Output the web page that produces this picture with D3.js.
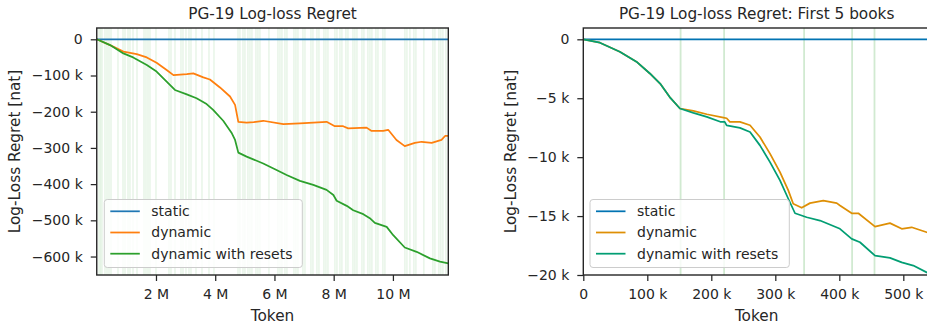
<!DOCTYPE html>
<html>
<head>
<meta charset="utf-8">
<script src="https://cdn.jsdelivr.net/npm/d3@7/dist/d3.min.js"></script>
<style>
  html, body { margin: 0; padding: 0; background: #fff; }
  svg { display: block; font-family: "DejaVu Sans", sans-serif; }
</style>
</head>
<body>
<svg id="chart" width="927" height="327"></svg>
<script>
// ---- Data ----------------------------------------------------------------
const seriesNames = ["static", "dynamic", "dynamic with resets"];

// Full PG-19 run: token in millions, regret in thousands of nats
const fullTokensM = [0, 11.87];
const fullStatic = [[0, 0], [11.87, 0]];
const fullDynamic = [
  [0, 0], [0.45, -16], [0.9, -34], [1.35, -41], [1.69, -50], [2.02, -65], [2.36, -85],
  [2.59, -99], [3.04, -96], [3.26, -94], [3.6, -105], [3.82, -111], [4.16, -133],
  [4.5, -158], [4.67, -181], [4.78, -228], [5.06, -230], [5.3, -229], [5.62, -225],
  [6.3, -234], [6.86, -232], [7.31, -230], [7.76, -228], [8.04, -240], [8.32, -240],
  [8.49, -246], [9.11, -244], [9.28, -253], [9.67, -253], [9.84, -250], [10.12, -278],
  [10.40, -295], [10.74, -286], [10.97, -283], [11.31, -286], [11.64, -278],
  [11.76, -267], [11.87, -267]
];
const fullResets = [
  [0, 0], [0.45, -16], [0.9, -39], [1.23, -50], [1.69, -71], [2.02, -89], [2.36, -117],
  [2.64, -140], [3.04, -152], [3.37, -163], [3.71, -179], [3.93, -195], [4.27, -225],
  [4.55, -258], [4.67, -278], [4.78, -313], [5.06, -324], [5.62, -343], [6.07, -361],
  [6.41, -375], [6.86, -391], [7.31, -402], [7.76, -416], [7.99, -430], [8.10, -446],
  [8.44, -460], [8.66, -472], [9.0, -483], [9.22, -494], [9.39, -507], [9.79, -518],
  [10.01, -541], [10.40, -575], [10.80, -587], [11.25, -605], [11.59, -614], [11.87, -619]
];
// Book boundaries (reset points), token in millions
const fullBookEnds = [
  0.076, 0.127, 0.177, 0.278, 0.346, 0.414, 0.481, 0.717, 0.886, 0.954, 1.055, 1.122,
  1.224, 1.359, 1.595, 1.662, 1.730, 1.797, 2.000, 2.439, 2.506, 2.641, 2.844, 2.911,
  3.013, 3.114, 3.181, 3.350, 3.553, 3.789, 3.958, 4.768, 4.835, 4.937, 5.004, 5.105,
  5.173, 5.240, 5.375, 5.443, 5.510, 5.814, 6.118, 6.186, 6.253, 6.354, 6.422, 6.658,
  6.726, 6.793, 6.962, 7.030, 7.232, 7.300, 7.435, 7.502, 7.671, 7.738, 7.806, 8.042,
  8.110, 8.211, 8.278, 8.413, 8.481, 8.650, 8.717, 8.785, 8.954, 9.021, 9.156, 9.224,
  9.291, 9.426, 9.494, 9.662, 9.730, 10.405, 10.473, 10.574, 10.709, 10.776, 11.046,
  11.350, 11.418, 11.553, 11.620, 11.688, 11.789
];
const fullXTicksM = [2, 4, 6, 8, 10];
const fullYTicksK = [0, -100, -200, -300, -400, -500, -600];

// First 5 books: token in thousands, regret in thousands of nats
const firstStatic = [[0, 0], [541.7, 0]];
const firstDynamic = [
  [0, 0], [26, -0.29], [57, -1.05], [83, -1.9], [104, -2.9], [120, -3.75], [135, -4.9],
  [151, -5.87], [172, -6.07], [193, -6.36], [219, -6.64], [224, -6.7], [229, -7.0],
  [244.8, -7.01], [260.5, -7.29], [276, -8.29], [291.7, -9.7], [307.3, -11.27],
  [320.3, -12.82], [328, -13.96], [341.2, -14.3], [354.2, -13.9], [375, -13.68],
  [396, -13.9], [401, -14.1], [419.4, -14.76], [429.7, -14.76], [455.8, -15.89],
  [479.2, -15.6], [497.5, -16.08], [513, -15.95], [536.6, -16.37], [541.7, -16.45]
];
const firstResets = [
  [0, 0], [26, -0.29], [57, -1.05], [83, -1.9], [104, -2.9], [120, -3.75], [135, -4.9],
  [151, -5.87], [172, -6.24], [193, -6.58], [214, -7.0], [221, -7.0], [224, -7.3],
  [244.8, -7.52], [260.5, -7.86], [276, -9.0], [291.7, -10.42], [307.3, -11.97],
  [320.3, -13.53], [330.8, -14.76], [349, -15.1], [369.8, -15.38], [401, -16.08],
  [419.4, -16.93], [432.3, -17.22], [455.8, -18.36], [479.2, -18.55], [497.5, -18.93],
  [515.6, -19.2], [536.6, -19.78], [541.7, -19.9]
];
const firstBookEnds = [152, 220, 345, 420, 455];
const firstXTicksK = [0, 100, 200, 300, 400, 500];
const firstYTicksK = [0, -5, -10, -15, -20];

// ---- Drawing ---------------------------------------------------------------
const svg = d3.select("#chart");
const ink = "#262626";
const MINUS = "\u2212";

function fmt(v, unit) {
  if (v === 0) return "0";
  const s = `${Math.abs(v)} ${unit}`;
  return v < 0 ? MINUS + s : s;
}

function panel(cfg) {
  const g = svg.append("g");
  const x = d3.scaleLinear().domain(cfg.xDomain).range([cfg.left, cfg.right]);
  const y = d3.scaleLinear().domain(cfg.yDomain).range([cfg.bottom, cfg.top]);

  const clipId = "clip-" + cfg.id;
  svg.append("clipPath").attr("id", clipId).append("rect")
    .attr("x", cfg.left).attr("y", cfg.top)
    .attr("width", cfg.right - cfg.left).attr("height", cfg.bottom - cfg.top);

  const plot = g.append("g").attr("clip-path", `url(#${clipId})`);

  // reset markers
  plot.append("g").selectAll("line").data(cfg.bookEnds).join("line")
    .attr("x1", d => x(d)).attr("x2", d => x(d))
    .attr("y1", cfg.top).attr("y2", cfg.bottom)
    .attr("stroke", "#2ca02c")
    .attr("stroke-opacity", cfg.markerOpacity)
    .attr("stroke-width", cfg.markerWidth);

  const line = d3.line().x(d => x(d[0])).y(d => y(d[1]));
  cfg.series.forEach((s, i) => {
    plot.append("path").datum(s)
      .attr("d", line)
      .attr("fill", "none")
      .attr("stroke", cfg.colors[i])
      .attr("stroke-width", 1.75)
      .attr("stroke-linejoin", "round");
  });

  // axes
  const xAxis = d3.axisBottom(x).tickValues(cfg.xTicks).tickSize(6).tickSizeOuter(0)
    .tickPadding(8).tickFormat(d => fmt(d, cfg.xUnit));
  const yAxis = d3.axisLeft(y).tickValues(cfg.yTicks).tickSize(6).tickSizeOuter(0)
    .tickPadding(8).tickFormat(d => fmt(d, cfg.yUnit));

  const gx = g.append("g").attr("transform", `translate(0,${cfg.bottom})`).call(xAxis);
  const gy = g.append("g").attr("transform", `translate(${cfg.left},0)`).call(yAxis);
  [gx, gy].forEach(a => {
    a.select(".domain").remove();
    a.selectAll(".tick line").attr("stroke", ink).attr("stroke-width", 1.25);
    a.selectAll(".tick text").attr("fill", ink).style("font-size", "14px")
      .style("font-family", "DejaVu Sans, sans-serif");
  });

  // frame
  g.append("rect")
    .attr("x", cfg.left).attr("y", cfg.top)
    .attr("width", cfg.right - cfg.left).attr("height", cfg.bottom - cfg.top)
    .attr("fill", "none").attr("stroke", ink).attr("stroke-width", 1.4);

  // titles and labels
  const cx = (cfg.left + cfg.right) / 2;
  g.append("text").attr("x", cx).attr("y", 18.5).attr("text-anchor", "middle")
    .attr("fill", ink).style("font-size", "15.3px").text(cfg.title);
  g.append("text").attr("x", (cfg.left + Math.min(cfg.right, 927)) / 2 + cfg.xLabelShift).attr("y", 321)
    .attr("text-anchor", "middle").attr("fill", ink).style("font-size", "15.3px").text("Token");
  g.append("text")
    .attr("transform", `translate(${cfg.yLabelX},${(cfg.top + cfg.bottom) / 2}) rotate(-90)`)
    .attr("text-anchor", "middle").attr("fill", ink).style("font-size", "15.3px")
    .text("Log-Loss Regret [nat]");

  // legend
  const lg = g.append("g").attr("transform", `translate(${cfg.legendX},199.5)`);
  lg.append("rect").attr("width", cfg.legendW).attr("height", 68).attr("rx", 3)
    .attr("fill", "#fff").attr("fill-opacity", 0.8)
    .attr("stroke", "#cccccc").attr("stroke-width", 1);
  seriesNames.forEach((name, i) => {
    const yy = 11.8 + i * 21.2;
    lg.append("line").attr("x1", 6).attr("x2", 35.5).attr("y1", yy).attr("y2", yy)
      .attr("stroke", cfg.colors[i]).attr("stroke-width", 1.75);
    lg.append("text").attr("x", 47).attr("y", yy).attr("dy", "0.35em")
      .attr("fill", ink).style("font-size", "14px").text(name);
  });
}

panel({
  id: "full",
  title: "PG-19 Log-loss Regret",
  left: 96.75, right: 448.3, top: 28, bottom: 275,
  xDomain: [0, fullTokensM[1]], yDomain: [-651, 31.2],
  xTicks: fullXTicksM, yTicks: fullYTicksK, xUnit: "M", yUnit: "k",
  series: [fullStatic, fullDynamic, fullResets],
  colors: ["#1f77b4", "#ff7f0e", "#2ca02c"],
  bookEnds: fullBookEnds, markerOpacity: 0.13, markerWidth: 1.3,
  yLabelX: 19.5, xLabelShift: 0,
  legendX: 104.3, legendW: 198
});

panel({
  id: "first",
  title: "PG-19 Log-loss Regret: First 5 books",
  left: 583.3, right: 930, top: 28, bottom: 275,
  xDomain: [0, 541.7], yDomain: [-20, 0.96],
  xTicks: firstXTicksK, yTicks: firstYTicksK, xUnit: "k", yUnit: "k",
  series: [firstStatic, firstDynamic, firstResets],
  colors: ["#0173b2", "#de8f05", "#029e73"],
  bookEnds: firstBookEnds, markerOpacity: 0.22, markerWidth: 1.8,
  yLabelX: 516, xLabelShift: 1.5,
  legendX: 590, legendW: 199.3
});
</script>
</body>
</html>
